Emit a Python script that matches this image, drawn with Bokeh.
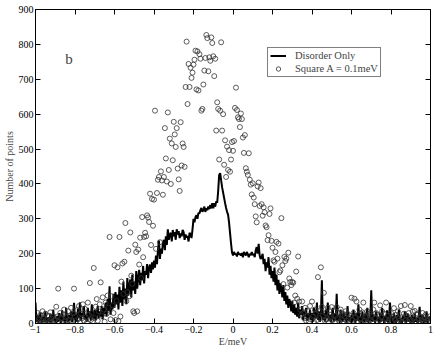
import numpy as np
from bokeh.plotting import figure
from bokeh.models import Range1d, LinearAxis, FixedTicker, Legend, LegendItem, Label
from bokeh.embed import file_html
from bokeh.resources import INLINE

# bin centres E/meV
energy = np.round(np.linspace(-1.0, 1.0, 401), 3)

disorder_only = [
    60, 5, 25, 2, 15, 30, 0, 10, 20, 3, 35, 8, 0, 18, 5, 28, 2, 12, 40, 6,
    15, 0, 22, 5, 30, 10, 2, 38, 8, 18, 0, 45, 12, 4, 25, 8, 35, 3, 20, 59,
    10, 28, 5, 42, 15, 61, 8, 30, 20, 50, 12, 25, 5, 45, 18, 35, 8, 55, 22, 15,
    40, 10, 30, 50, 15, 35, 20, 50, 12, 45, 28, 60, 20, 70, 35, 107, 25, 60, 40, 85,
    45, 90, 55, 83, 40, 105, 60, 95, 50, 120, 70, 100, 55, 130, 80, 110, 126, 75, 140, 95,
    120, 85, 150, 100, 130, 154, 110, 145, 125, 165, 115, 150, 140, 170, 130, 160, 169, 145, 175, 155,
    180, 160, 195, 170, 210, 238, 185, 215, 200, 230, 240, 210, 250, 225, 270, 240, 255, 260, 235, 268,
    250, 262, 240, 270, 255, 265, 245, 258, 250, 268, 262, 240, 255, 247, 250, 235, 260, 255, 245, 270,
    300, 290, 305, 310, 300, 317, 315, 325, 331, 320, 325, 335, 320, 330, 325, 335, 328, 340, 330, 345,
    330, 345, 335, 350, 346, 380, 426, 431, 410, 390, 375, 360, 345, 331, 320, 312, 290, 260, 230, 204,
    195, 205, 198, 200, 192, 205, 198, 200, 195, 202, 190, 205, 200, 195, 205, 198, 190, 200, 196, 205,
    196, 200, 190, 210, 219, 200, 228, 195, 185, 190, 200, 170, 185, 150, 175, 160, 190, 140, 165, 130,
    150, 120, 160, 110, 140, 95, 125, 85, 115, 100, 75, 110, 65, 90, 55, 80, 45, 70, 60, 35,
    65, 30, 55, 25, 45, 20, 60, 15, 40, 25, 50, 10, 35, 20, 45, 8, 30, 15, 40, 10,
    30, 5, 45, 20, 15, 60, 10, 35, 5, 25, 124, 10, 30, 5, 40, 15, 60, 8, 25, 3,
    20, 45, 5, 30, 10, 85, 8, 25, 2, 40, 15, 5, 35, 10, 22, 2, 50, 8, 18, 3,
    25, 5, 40, 12, 2, 30, 8, 55, 5, 20, 0, 35, 10, 3, 28, 6, 45, 2, 15, 8,
    95, 5, 25, 10, 2, 35, 8, 18, 0, 30, 5, 45, 12, 2, 22, 8, 38, 3, 15, 60,
    5, 20, 2, 30, 10, 0, 25, 8, 40, 3, 15, 0, 22, 6, 35, 2, 12, 28, 5, 18,
    0, 25, 8, 2, 30, 5, 15, 0, 20, 48, 3, 12, 25, 0, 18, 5, 35, 2, 10, 20,
    12,
]

square_a = [
    18, 5, 30, 12, 2, 25, 8, 35, 15, 3, 28, 10, 0, 22, 6, 32, 14, 4, 20, 9,
    12, 48, 20, 100, 5, 30, 15, 2, 25, 40, 8, 18, 0, 35, 10, 22, 45, 6, 28, 100,
    20, 5, 38, 12, 50, 3, 28, 15, 55, 8, 42, 18, 2, 60, 25, 116, 10, 30, 6, 159,
    15, 48, 70, 8, 35, 55, 118, 22, 75, 40, 5, 60, 28, 80, 45, 248, 12, 78, 52, 30,
    167, 10, 65, 161, 7, 248, 20, 120, 172, 85, 177, 288, 64, 90, 209, 78, 261, 137, 114, 35,
    30, 226, 205, 35, 212, 169, 246, 130, 305, 190, 248, 260, 250, 310, 304, 291, 372, 225, 357, 280,
    355, 610, 214, 374, 412, 420, 233, 436, 410, 369, 420, 560, 473, 407, 605, 440, 530, 400, 516, 468,
    578, 542, 506, 560, 444, 413, 380, 577, 453, 516, 506, 449, 678, 808, 629, 744, 678, 733, 704, 719,
    742, 756, 782, 671, 780, 668, 772, 759, 610, 615, 685, 725, 761, 827, 818, 723, 763, 753, 820, 804,
    766, 709, 759, 553, 634, 615, 470, 610, 806, 553, 600, 455, 525, 420, 507, 440, 497, 435, 470, 520,
    495, 523, 618, 676, 612, 591, 586, 563, 602, 586, 533, 489, 540, 445, 435, 426, 488, 412, 398, 370,
    402, 361, 342, 307, 290, 393, 404, 337, 388, 342, 309, 333, 319, 281, 276, 239, 253, 314, 330, 237,
    217, 181, 177, 205, 234, 186, 229, 147, 152, 302, 167, 113, 191, 179, 186, 103, 203, 129, 119, 110,
    119, 117, 60, 80, 149, 71, 192, 63, 40, 25, 63, 30, 15, 45, 8, 20, 35, 5, 50, 12,
    63, 20, 5, 40, 28, 10, 133, 35, 15, 161, 48, 22, 88, 8, 30, 12, 45, 3, 25, 18,
    47, 10, 35, 2, 22, 47, 15, 30, 5, 40, 12, 25, 0, 20, 35, 8, 28, 15, 3, 22,
    74, 10, 30, 71, 18, 63, 5, 25, 40, 12, 2, 32, 60, 8, 20, 15, 35, 3, 28, 10,
    22, 5, 40, 60, 15, 30, 2, 25, 10, 52, 18, 35, 5, 28, 12, 60, 3, 22, 8, 15,
    30, 5, 20, 44, 10, 25, 2, 35, 15, 8, 50, 18, 3, 28, 53, 10, 22, 5, 30, 12,
    50, 8, 34, 15, 36, 5, 25, 28, 12, 2, 20, 10, 30, 5, 17, 25, 8, 15, 3, 20,
    10,
]

x_ticks = [-1, -0.8, -0.6, -0.4, -0.2, 0, 0.2, 0.4, 0.6, 0.8, 1]
x_tick_labels = ["\u22121", "\u22120.8", "\u22120.6", "\u22120.4", "\u22120.2", "0",
                 "0.2", "0.4", "0.6", "0.8", "1"]
y_ticks = [0, 100, 200, 300, 400, 500, 600, 700, 800, 900]

FONT = "Liberation Serif"

p = figure(width=436, height=349, output_backend="svg", toolbar_location=None,
           x_range=Range1d(-1, 1), y_range=Range1d(0, 900),
           min_border_top=9, min_border_right=6, min_border_left=0, min_border_bottom=0)
p.xgrid.visible = False
p.ygrid.visible = False
p.outline_line_color = "black"
p.background_fill_color = "white"
p.border_fill_color = "white"

def style_axis(ax, ticks, show_labels=True):
    ax.ticker = FixedTicker(ticks=ticks)
    ax.major_tick_in = 5
    ax.major_tick_out = 0
    ax.minor_tick_in = 0
    ax.minor_tick_out = 0
    ax.axis_line_color = "black"
    ax.major_tick_line_color = "black"
    ax.major_label_text_font = FONT
    ax.axis_label_text_font = FONT
    ax.axis_label_text_font_size = "10px"
    ax.axis_label_text_font_style = "normal"
    ax.axis_label_standoff = 0
    if show_labels:
        ax.major_label_text_font_size = "10px"
        ax.major_label_text_color = "black"
        ax.major_label_standoff = 2
    else:
        ax.major_label_text_font_size = "1px"
        ax.major_label_text_color = None
        ax.major_label_standoff = 0

style_axis(p.xaxis[0], x_ticks)
p.xaxis[0].major_label_overrides = {t: l for t, l in zip(x_ticks, x_tick_labels)}
p.xaxis[0].axis_label = "E/meV"
style_axis(p.yaxis[0], y_ticks)
p.yaxis[0].axis_label = "Number of points"
p.yaxis[0].axis_label_standoff = 1

top = LinearAxis()
style_axis(top, x_ticks, show_labels=False)
p.add_layout(top, "above")
right = LinearAxis()
style_axis(right, y_ticks, show_labels=False)
p.add_layout(right, "right")

r_line = p.line(energy, disorder_only, line_color="black", line_width=2)
r_sc = p.scatter(energy, square_a, marker="circle", size=5, fill_color=None,
                 line_color="#333333", line_width=0.8)

legend = Legend(items=[LegendItem(label="Disorder Only", renderers=[r_line]),
                       LegendItem(label="Square A = 0.1meV", renderers=[r_sc])],
                location=(232, 246))
legend.label_text_font = FONT
legend.label_text_font_size = "10.5px"
legend.label_height = 11
legend.glyph_height = 11
legend.glyph_width = 16
legend.label_standoff = 9
legend.spacing = 2
legend.padding = 2
legend.margin = 0
legend.border_line_color = "black"
legend.border_line_width = 1
legend.background_fill_alpha = 1
p.add_layout(legend, "center")

p.add_layout(Label(x=-0.83, y=757, text="b", text_font=FONT, text_font_size="15px",
                   text_align="center", text_baseline="middle"))

open("out.html", "w").write(file_html(p, INLINE))
